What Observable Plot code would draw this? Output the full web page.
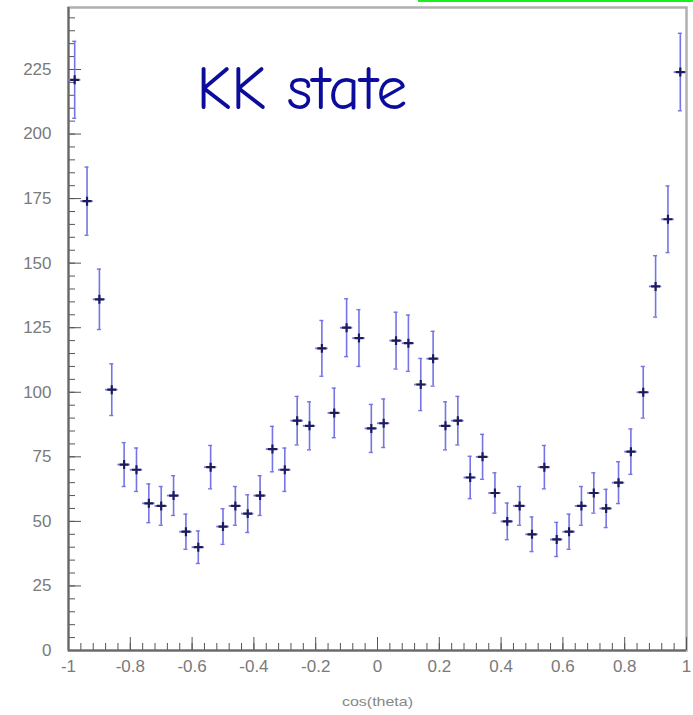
<!DOCTYPE html>
<html><head><meta charset="utf-8">
<script src="https://cdn.jsdelivr.net/npm/d3@7"></script>
<script src="https://cdn.jsdelivr.net/npm/@observablehq/plot@0.6"></script>
<style>
body{margin:0;background:#fff;}
#wrap{position:relative;width:693px;height:715px;}
#green{position:absolute;left:418px;top:0;width:275px;height:2px;background:#19f019;}
</style></head><body><div id="wrap"><div id="green"></div></div>
<script>
const cosTheta = [-0.98,-0.94,-0.90,-0.86,-0.82,-0.78,-0.74,-0.70,-0.66,-0.62,-0.58,-0.54,-0.50,-0.46,-0.42,-0.38,-0.34,-0.30,-0.26,-0.22,-0.18,-0.14,-0.10,-0.06,-0.02,0.02,0.06,0.10,0.14,0.18,0.22,0.26,0.30,0.34,0.38,0.42,0.46,0.50,0.54,0.58,0.62,0.66,0.70,0.74,0.78,0.82,0.86,0.90,0.94,0.98];
const counts = [221,174,136,101,72,70,57,56,60,46,40,71,48,56,53,60,78,70,89,87,117,92,125,121,86,88,120,119,103,113,87,89,67,75,61,50,56,45,71,43,46,56,61,55,65,77,100,141,167,224];
const errors = [14.9,13.2,11.7,10.0,8.5,8.4,7.5,7.5,7.7,6.8,6.3,8.4,6.9,7.5,7.3,7.7,8.8,8.4,9.4,9.3,10.8,9.6,11.2,11.0,9.3,9.4,11.0,10.9,10.1,10.6,9.3,9.4,8.2,8.7,7.8,7.1,7.5,6.7,8.4,6.6,6.8,7.5,7.8,7.4,8.1,8.8,10.0,11.9,12.9,15.0];
const binHalfWidth = 0.02;
const yTicks = [0,25,50,75,100,125,150,175,200,225];
const xTicks = [-1,-0.8,-0.6,-0.4,-0.2,0,0.2,0.4,0.6,0.8,1];
const title = "KK state";
const xLabel = "cos(theta)";

const data = cosTheta.map((x, i) => ({x, n: counts[i], e: errors[i]}));
const yMinor = d3.range(0, 250, 5);
const xMinor = d3.range(-1, 1.0001, 0.04);
const capHalf = 0.0065;
const barColor = "#7474e4";
const tickColor = "#555";
const fmt = d => String(+(+d).toFixed(2));

const chart = Plot.plot({
  width: 693, height: 715,
  marginLeft: 68, marginRight: 7, marginTop: 7, marginBottom: 65,
  x: {domain: [-1, 1]},
  y: {domain: [0, 249]},
  style: {fontFamily: "'Liberation Sans', Arial, sans-serif", background: "white", color: "#444"},
  marks: [
    Plot.frame({stroke: "#b0b0b0", strokeWidth: 2.5}),
    Plot.axisY({ticks: yMinor, tickSize: -7, fill: "none", stroke: tickColor, label: null}),
    Plot.axisY({ticks: yTicks, tickSize: -13, fill: "none", stroke: tickColor, label: null}),
    Plot.axisY({ticks: yTicks, tickSize: 0, tickPadding: 17, tickFormat: fmt, fill: "#7a7a7a", fontSize: 17, label: null}),
    Plot.axisX({ticks: xMinor, tickSize: -7, fill: "none", stroke: tickColor, label: null}),
    Plot.axisX({ticks: xTicks, tickSize: -13, fill: "none", stroke: tickColor, label: null}),
    Plot.axisX({ticks: xTicks, tickSize: 0, tickPadding: 9, tickFormat: fmt, fill: "#7a7a7a", fontSize: 17, label: null}),
    Plot.ruleX([-1], {stroke: "#666", strokeWidth: 2}),
    Plot.ruleY([0], {stroke: "#666", strokeWidth: 2}),
    Plot.ruleX(data, {x: "x", y1: d => d.n - d.e, y2: d => d.n + d.e, stroke: barColor, strokeWidth: 1.6}),
    Plot.ruleY(data, {y: d => d.n + d.e, x1: d => d.x - capHalf, x2: d => d.x + capHalf, stroke: barColor, strokeWidth: 1.4}),
    Plot.ruleY(data, {y: d => d.n - d.e, x1: d => d.x - capHalf, x2: d => d.x + capHalf, stroke: barColor, strokeWidth: 1.4}),
    Plot.ruleY(data, {y: "n", x1: d => Math.max(-1, d.x - binHalfWidth), x2: d => Math.min(1, d.x + binHalfWidth), stroke: barColor, strokeWidth: 1.8}),
    Plot.dot(data, {x: "x", y: "n", symbol: "plus", r: 3, stroke: "#1c1c5c", strokeWidth: 2.2}),
    Plot.text([title], {frameAnchor: "top-left", dx: 128, dy: 82, textAnchor: "start", lineAnchor: "middle",
      fontSize: 62, fill: "#0c0c9c", fontFamily: "'Comic Sans MS', 'Comic Neue', 'Open Sans', sans-serif"}),
    Plot.text([xLabel], {frameAnchor: "bottom", dy: 55, fontSize: 13, fill: "#888", className: "xlab"})
  ]
});
document.getElementById("wrap").appendChild(chart);
chart.style.position = "absolute"; chart.style.left = "0"; chart.style.top = "0";
const xl = chart.querySelector(".xlab text");
if (xl) { xl.setAttribute("textLength", "71"); xl.setAttribute("lengthAdjust", "spacingAndGlyphs"); }
document.getElementById("wrap").appendChild(document.getElementById("green"));
</script>
</body></html>
